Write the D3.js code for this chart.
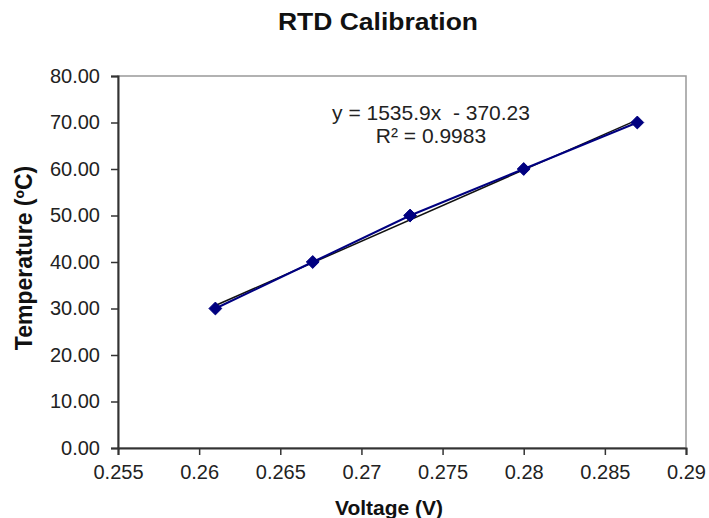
<!DOCTYPE html>
<html>
<head>
<meta charset="utf-8">
<script src="https://cdn.jsdelivr.net/npm/d3@7"></script>
<style>
  body { margin: 0; background: #fff; }
  text { font-family: "Liberation Sans", Arial, sans-serif; }
</style>
</head>
<body>
<div id="chart"></div>
<script>
// data
var voltage = [0.261, 0.267, 0.273, 0.280, 0.287];
var temperature = [30, 40, 50, 60, 70];
var xTicks = [0.255, 0.26, 0.265, 0.27, 0.275, 0.28, 0.285, 0.29];
var yTicks = [0, 10, 20, 30, 40, 50, 60, 70, 80];
var slope = 1535.9, intercept = -370.23;
var eqLines = ["y = 1535.9x  - 370.23", "R\u00b2 = 0.9983"];

var W = 709, H = 518;
var margin = {top: 76, right: 23, bottom: 70, left: 118},
    width = W - margin.left - margin.right,
    height = H - margin.top - margin.bottom;

var svg = d3.select("#chart")
    .append("svg")
    .attr("width", W)
    .attr("height", H);

var g = svg.append("g")
    .attr("transform", "translate(" + margin.left + "," + margin.top + ")");

var x = d3.scaleLinear().domain([0.255, 0.29]).range([0, width]);
var y = d3.scaleLinear().domain([0, 80]).range([height, 0]);

// plot frame (top/right)
g.append("rect")
    .attr("x", 0).attr("y", 0)
    .attr("width", width).attr("height", height)
    .attr("fill", "none")
    .attr("stroke", "#999")
    .attr("stroke-width", 1.5);

// axes
var xAxis = g.append("g")
    .attr("transform", "translate(0," + height + ")")
    .call(d3.axisBottom(x).tickValues(xTicks).tickSize(7).tickPadding(10)
        .tickFormat(function (d) { return String(+d.toFixed(3)); }));
var yAxis = g.append("g")
    .call(d3.axisLeft(y).tickValues(yTicks).tickSize(7).tickPadding(11)
        .tickFormat(d3.format(".2f")));

[xAxis, yAxis].forEach(function (a) {
    a.select(".domain").attr("stroke", "#333").attr("stroke-width", 2);
    a.selectAll(".tick line").attr("stroke", "#333").attr("stroke-width", 1.5);
    a.selectAll(".tick text")
        .attr("fill", "#222")
        .style("font-size", "20px")
        .style("font-family", "'Liberation Sans', Arial, sans-serif");
});

// trendline
var x0 = d3.min(voltage), x1 = d3.max(voltage);
g.append("line")
    .attr("x1", x(x0)).attr("y1", y(slope * x0 + intercept))
    .attr("x2", x(x1)).attr("y2", y(slope * x1 + intercept))
    .attr("stroke", "#111")
    .attr("stroke-width", 1.5);

// data line
var pts = voltage.map(function (v, i) { return {v: v, t: temperature[i]}; });
g.append("path")
    .datum(pts)
    .attr("fill", "none")
    .attr("stroke", "#000080")
    .attr("stroke-width", 2)
    .attr("d", d3.line().x(function (d) { return x(d.v); }).y(function (d) { return y(d.t); }));

// markers
g.append("g")
    .selectAll("path")
    .data(pts)
    .enter()
    .append("path")
    .attr("transform", function (d) { return "translate(" + x(d.v) + "," + y(d.t) + ")"; })
    .attr("d", d3.symbol().type(d3.symbolDiamond2).size(105))
    .attr("fill", "#000080")
    .attr("stroke", "#000080")
    .attr("stroke-width", 1);

// equation
svg.append("g")
    .selectAll("text")
    .data(eqLines)
    .enter()
    .append("text")
    .attr("x", 431)
    .attr("y", function (d, i) { return 120 + i * 23; })
    .attr("text-anchor", "middle")
    .attr("fill", "#222")
    .style("font-size", "21px")
    .style("white-space", "pre")
    .text(function (d) { return d; });

// titles
svg.append("text")
    .attr("x", 378).attr("y", 30)
    .attr("text-anchor", "middle")
    .attr("textLength", 200)
    .attr("lengthAdjust", "spacingAndGlyphs")
    .style("font-size", "24px")
    .style("font-weight", "bold")
    .attr("fill", "#111")
    .text("RTD Calibration");

svg.append("text")
    .attr("x", 389).attr("y", 515)
    .attr("text-anchor", "middle")
    .style("font-size", "21px")
    .style("font-weight", "bold")
    .attr("fill", "#111")
    .text("Voltage (V)");

svg.append("text")
    .attr("transform", "translate(32,258) rotate(-90)")
    .attr("text-anchor", "middle")
    .style("font-size", "23px")
    .style("font-weight", "bold")
    .attr("fill", "#111")
    .text("Temperature (\u00baC)");
</script>
</body>
</html>
